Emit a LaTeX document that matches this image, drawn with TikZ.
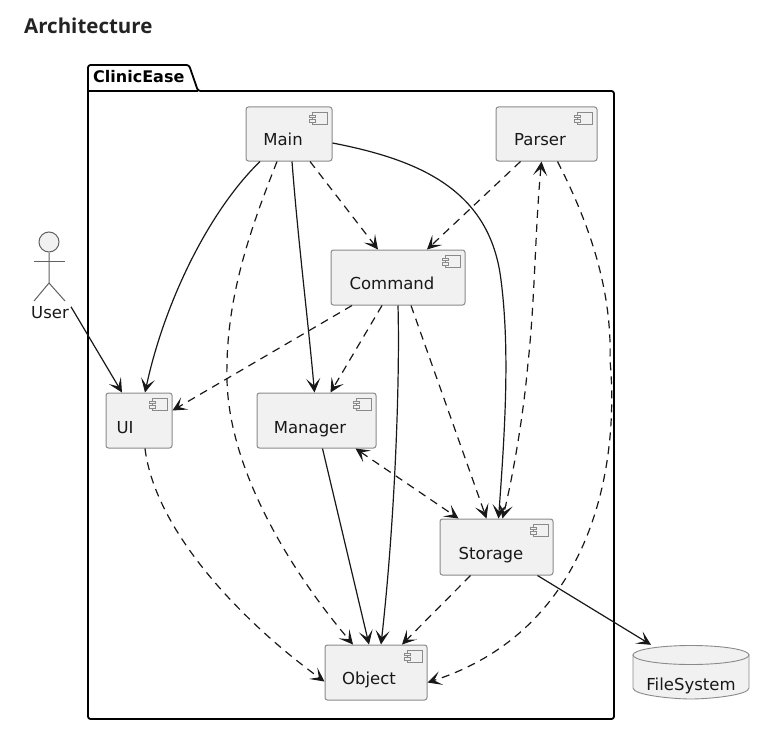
\documentclass[tikz,border=0pt]{standalone}
\usepackage{fontspec}
\setmainfont{DejaVu Sans}
\newfontfamily\titlefont{Open Sans}
\usetikzlibrary{arrows.meta}
\definecolor{boxfill}{HTML}{F1F1F1}
\definecolor{boxline}{HTML}{8A8A8A}
\definecolor{ink}{HTML}{181818}
\tikzset{
  x=1pt,y=-1pt,
  compbox/.style={draw=boxline,fill=boxfill,line width=1pt,rounded corners=2.5pt,inner sep=0pt},
  icon/.style={draw=boxline,fill=boxfill,line width=.7pt},
  lbl/.style={font=\fontsize{16.5}{18}\selectfont,text=ink,inner sep=0pt,anchor=base},
  tipped/.style={ink,line width=1.2pt},
  tipshape/.style={},
  link/.style={tipped,-{Stealth[length=14pt,width=14pt,inset=7pt,line width=1pt]}},
  dlink/.style={link,dash pattern=on 8pt off 6pt},
  blink/.style={tipped,dash pattern=on 8pt off 6pt,{Stealth[length=14pt,width=14pt,inset=7pt,line width=1pt]}-{Stealth[length=14pt,width=14pt,inset=7pt,line width=1pt]}},
  actorline/.style={draw=boxline!70!black,line width=1pt},
}
\newcommand{\compnode}[8]{% name cx cy w h textx basey text
  \node[compbox,minimum width=#4pt,minimum height=#5pt] (#1) at (#2,#3) {};
  \draw[icon] ([xshift=-20pt,yshift=-5.5pt]#1.north east) rectangle ([xshift=-5pt,yshift=-18pt]#1.north east);
  \draw[icon] ([xshift=-23.5pt,yshift=-8.5pt]#1.north east) rectangle ([xshift=-17.5pt,yshift=-11pt]#1.north east);
  \draw[icon] ([xshift=-23.5pt,yshift=-13pt]#1.north east) rectangle ([xshift=-17.5pt,yshift=-15.5pt]#1.north east);
  \node[lbl] (#1-text) at (#6,#7) {#8};
}
\begin{document}
\begin{tikzpicture}
\useasboundingbox (0,0) rectangle (762,733);
\node[anchor=base west,inner sep=0pt,text=ink!95,font=\titlefont\bfseries\fontsize{20.5}{24}\selectfont] (title) at (24,34) {Architecture};

% package
\draw[black,line width=1.8pt,line join=round,rounded corners=2.5pt]
  (88,91) -- (88,65) -- (189,65) -- (198,91) -- (614,91) -- (614,719) -- (88,719) -- cycle;
\draw[black,line width=1.8pt] (88,91) -- (198,91);
\node[anchor=base west,inner sep=0pt,font=\bfseries\fontsize{16}{18}\selectfont,text=black] (pkg) at (93,83) {ClinicEase};

% components
\compnode{main}{289}{134}{86}{54}{283}{145}{Main}
\compnode{parser}{546.5}{134}{101}{54}{540}{145}{Parser}
\compnode{command}{398}{277.5}{134}{55}{392}{289}{Command}
\compnode{ui}{139}{420.5}{66}{55}{125}{433}{UI}
\compnode{manager}{316.5}{420.5}{119}{55}{310}{433}{Manager}
\compnode{storage}{496.5}{547}{113}{56}{491}{559}{Storage}
\compnode{object}{376}{672.5}{102}{55}{369}{684}{Object}

% database
\node[minimum width=116pt,minimum height=54pt,inner sep=0pt] (fs) at (691,672) {};
\draw[compbox,rounded corners=0pt,line width=.9pt] (633,655) -- (749,655) -- (749,688)
  .. controls (749,695) and (710,699) .. (691,699) .. controls (672,699) and (633,695) .. (633,688) -- cycle;
\draw[compbox,rounded corners=0pt,line width=.9pt] (691,655) ellipse[x radius=58,y radius=9.5];
\node[lbl] (fs-text) at (691,690) {FileSystem};

% actor
\node[circle,draw=boxline!70!black,fill=boxfill,line width=1pt,minimum size=20pt,inner sep=0pt] (head) at (49,242) {};
\coordinate (hip) at (49,283);
\coordinate (arml) at (34,261);
\coordinate (armr) at (65,261);
\coordinate (legl) at (34,301);
\coordinate (legr) at (65,301);
\draw[actorline] (head.south) -- (hip) -- (legl);
\draw[actorline] (hip) -- (legr);
\draw[actorline] (arml) -- (armr);
\node[lbl] (user) at (50,318) {User};

% connectors
\draw[link] ([xshift=2pt,yshift=-1pt]user.north east) -- ([xshift=-17pt]ui.north);
\draw[link] ([xshift=-29pt]main.south) .. controls (210,210) and (165,300) .. ([xshift=6pt]ui.north);
\draw[dlink] ([xshift=-12pt]main.south) .. controls (250,230) and (225,300) .. (227,380) .. controls (229,470) and (290,570) .. ([xshift=-23pt]object.north);
\draw[link] ([xshift=3pt]main.south) .. controls (298,240) and (308,320) .. ([xshift=-2pt]manager.north);
\draw[dlink] ([xshift=21pt]main.south) -- ([xshift=-20pt]command.north);
\draw[link] ([yshift=-9pt]main.east) .. controls (420,160) and (490,190) .. (501,280) .. controls (510,350) and (505,430) .. ([xshift=2pt]storage.north);
\draw[dlink] ([xshift=-26pt]parser.south) -- ([xshift=29pt]command.north);
\draw[blink] ([xshift=-5pt]parser.south) .. controls (535,230) and (535,300) .. (528,363) .. controls (523,420) and (512,480) .. ([xshift=6pt]storage.north);
\draw[dlink] ([xshift=11pt]parser.south) .. controls (590,225) and (612,290) .. (610,360) .. controls (620,470) and (590,630) .. ([yshift=-10pt]object.east);
\draw[dlink] ([xshift=-46pt]command.south) -- ([yshift=-18pt]ui.north east);
\draw[dlink] ([xshift=-16pt]command.south) -- ([xshift=14pt]manager.north);
\draw[link] (command.south) .. controls (400,380) and (395,520) .. ([xshift=5pt]object.north);
\draw[dlink] ([xshift=13pt]command.south) -- ([xshift=-10pt]storage.north);
\draw[blink] ([xshift=39pt]manager.south) -- ([xshift=-38pt]storage.north);
\draw[link] ([xshift=6pt]manager.south) -- ([xshift=-7pt]object.north);
\draw[dlink] ([xshift=6pt]ui.south) .. controls (155,530) and (240,620) .. ([yshift=-9pt]object.west);
\draw[dlink] ([xshift=-26pt]storage.south) -- ([xshift=26pt]object.north);
\draw[link] ([xshift=41pt]storage.south) -- ([xshift=-40pt]fs.north);
\end{tikzpicture}
\end{document}
